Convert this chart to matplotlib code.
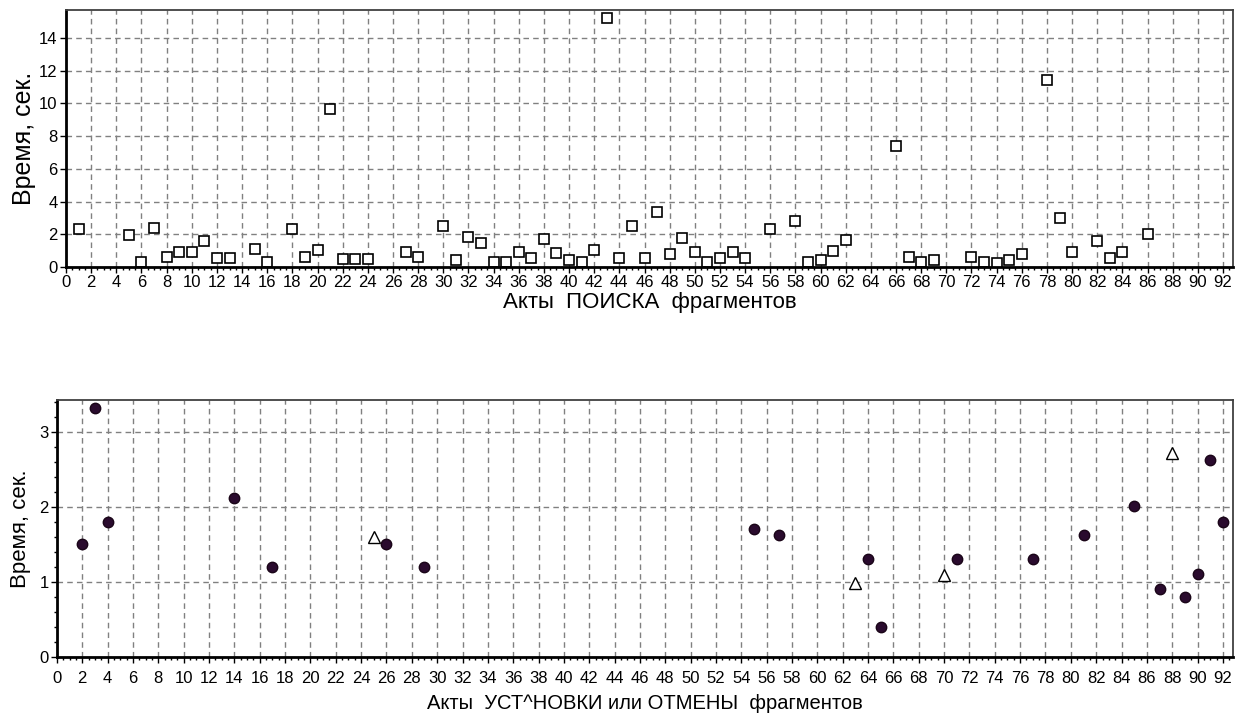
import matplotlib
matplotlib.use('Agg')
import matplotlib.pyplot as plt
from matplotlib.ticker import MultipleLocator

plt.rcParams['font.family'] = ['Liberation Sans', 'DejaVu Sans']

# Акты поиска фрагментов
search_x = [1, 5, 6, 7, 8, 9, 10, 11, 12, 13, 15, 16, 18, 19, 20, 21, 22, 23, 24,
            27, 28, 30, 31, 32, 33, 34, 35, 36, 37, 38, 39, 40, 41, 42, 43, 44, 45,
            46, 47, 48, 49, 50, 51, 52, 53, 54, 56, 58, 59, 60, 61, 62, 66, 67, 68,
            69, 72, 73, 74, 75, 76, 78, 79, 80, 82, 83, 84, 86]
search_t = [2.3, 1.95, 0.32, 2.4, 0.63, 0.9, 0.9, 1.6, 0.53, 0.53, 1.08, 0.32, 2.3,
            0.63, 1.04, 9.63, 0.47, 0.47, 0.47, 0.9, 0.63, 2.5, 0.43, 1.85, 1.48,
            0.32, 0.32, 0.9, 0.53, 1.69, 0.83, 0.43, 0.32, 1.04, 15.2, 0.53, 2.5,
            0.53, 3.35, 0.79, 1.75, 0.9, 0.32, 0.53, 0.9, 0.53, 2.3, 2.79, 0.32,
            0.43, 1.0, 1.65, 7.38, 0.63, 0.32, 0.43, 0.63, 0.32, 0.26, 0.43, 0.79,
            11.44, 2.97, 0.9, 1.57, 0.53, 0.9, 2.0]

# Акты установки (кружки) и отмены (треугольники)
set_x = [2, 3, 4, 14, 17, 26, 29, 55, 57, 64, 65, 71, 77, 81, 85, 87, 89, 90, 91, 92]
set_t = [1.51, 3.32, 1.8, 2.11, 1.2, 1.51, 1.2, 1.7, 1.62, 1.3, 0.4, 1.3, 1.3,
         1.62, 2.01, 0.9, 0.8, 1.1, 2.62, 1.8]
undo_x = [25, 63, 70, 88]
undo_t = [1.6, 0.99, 1.09, 2.71]

fig = plt.figure(figsize=(12.41, 7.15), dpi=100)
ax1 = fig.add_axes([0.0532, 0.6266, 0.9404, 0.3594])
ax2 = fig.add_axes([0.0459, 0.0811, 0.9477, 0.3594])


def style_axes(ax, ymax, ystep):
    ax.set_xlim(0, 92.8)
    ax.set_ylim(0, ymax)
    ax.xaxis.set_major_locator(MultipleLocator(2))
    ax.xaxis.set_minor_locator(MultipleLocator(0.5))
    ax.yaxis.set_major_locator(MultipleLocator(ystep))
    ax.grid(True, which='major', color='#808080', linestyle=(0, (4, 3)), linewidth=1)
    ax.set_axisbelow(True)
    for side in ['left', 'bottom']:
        ax.spines[side].set_linewidth(2)
        ax.spines[side].set_color('black')
    for side in ['top', 'right']:
        ax.spines[side].set_linewidth(1.3)
        ax.spines[side].set_color('#404040')
    ax.tick_params(which='major', direction='out', length=4, width=1, labelsize=12, pad=2)
    ax.tick_params(which='minor', direction='out', length=2, width=1)


style_axes(ax1, 15.7, 2)
ax1.set_xlabel('Акты  ПОИСКА  фрагментов', fontsize=16, labelpad=1)
ax1.set_ylabel('Время, сек.', fontsize=18, labelpad=2)
ax1.plot(search_x, search_t, linestyle='none', marker='s', markersize=7,
         markerfacecolor='white', markeredgecolor='black', markeredgewidth=1.2)

style_axes(ax2, 3.42, 1)
ax2.yaxis.set_minor_locator(MultipleLocator(0.2))
ax2.tick_params(axis='x', which='major', pad=6)
ax2.set_xlabel('Акты  УСТ^НОВКИ или ОТМЕНЫ  фрагментов', fontsize=14.5, labelpad=6)
ax2.set_ylabel('Время, сек.', fontsize=16, labelpad=6)
ax2.plot(set_x, set_t, linestyle='none', marker='o', markersize=7.5,
         markerfacecolor='#2a0b2e', markeredgecolor='#1a0518', markeredgewidth=1)
ax2.plot(undo_x, undo_t, linestyle='none', marker='^', markersize=9,
         markerfacecolor='white', markeredgecolor='black', markeredgewidth=1)

fig.savefig('out.png', dpi=100)
plt.close(fig)
